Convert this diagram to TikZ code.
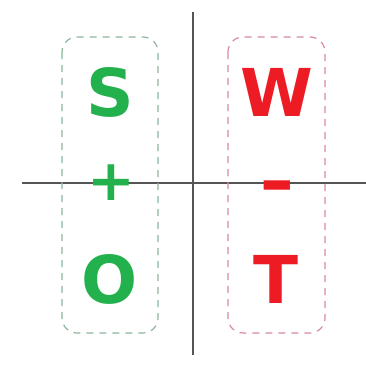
\documentclass[tikz,border=0pt]{standalone}
\usepackage{fontspec}
\setmainfont{DejaVu Sans}
\definecolor{strong}{HTML}{22B14C}
\definecolor{weak}{HTML}{ED1C24}
\definecolor{strongbox}{HTML}{8DB59A}
\definecolor{weakbox}{HTML}{D9899B}
\definecolor{axis}{HTML}{555555}
\begin{document}
\begin{tikzpicture}[
    x=1pt, y=-1pt,
    every node/.style={font=\fontsize{66}{66}\selectfont\bfseries, inner sep=0pt},
    groupbox/.style={rounded corners=15pt, dash pattern=on 7pt off 6pt, line width=1.2pt},
    thick
]
    \useasboundingbox (0,0) rectangle (366,375);
    % Ejes
    \coordinate (top) at (193,12);
    \coordinate (bottom) at (193,355);
    \coordinate (left) at (22,183);
    \coordinate (right) at (366,183);
    \draw[axis, line width=1.3pt] (top) -- (bottom);
    \draw[axis, line width=1.3pt] (left) -- (right);

    % Cajas de grupo
    \draw[groupbox, strongbox] (62,37) rectangle (158,333);
    \draw[groupbox, weakbox] (228,37) rectangle (325,333);

    % Letras
    \node[strong] (s) at (110,92) {S};
    \node[strong, font=\fontsize{57}{57}\selectfont\bfseries] (plus) at (111,183) {+};
    \node[strong] (o) at (110,279) {O};
    \node[weak] (w) at (277,92) {W};
    \node[weak, xscale=1.3] (minus) at (277,193) {-};
    \node[weak] (t) at (276,279) {T};
\end{tikzpicture}
\end{document}
